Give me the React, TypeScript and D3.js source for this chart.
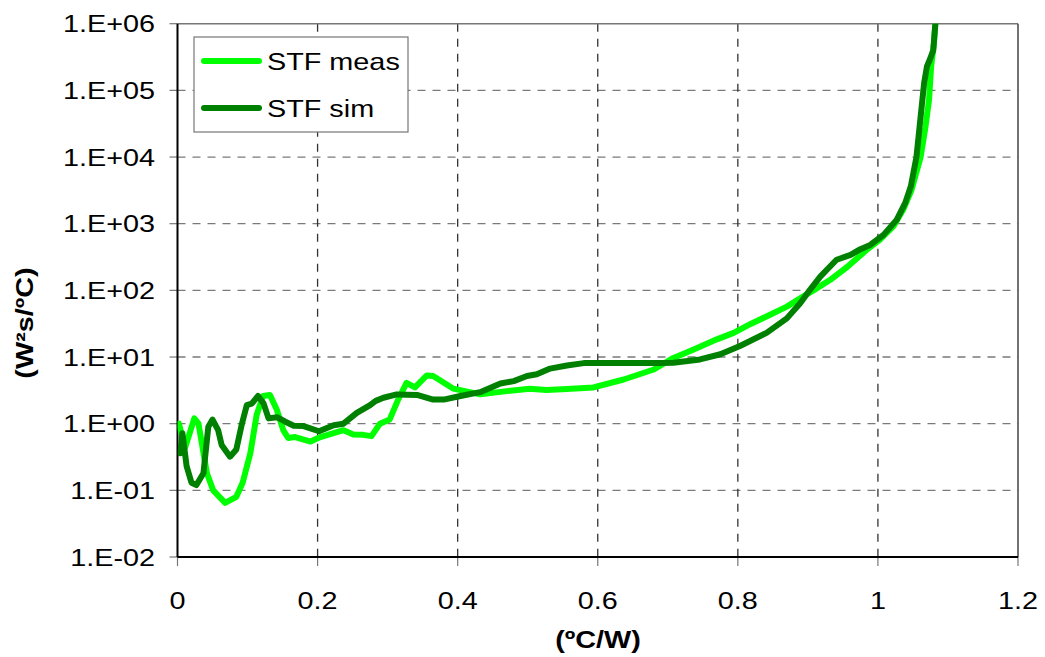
import { useEffect, useRef } from "react"
import * as d3 from "d3"

// STF curves, [x (ºC/W), y (W²s/ºC)]
const stfMeas: [number, number][] = [
  [0.002, 1.0], [0.011, 0.44], [0.024, 1.2], [0.03, 1.0], [0.042, 0.18], [0.051, 0.1],
  [0.068, 0.065], [0.084, 0.08], [0.093, 0.13], [0.104, 0.36], [0.113, 1.35], [0.122, 2.6],
  [0.132, 2.7], [0.142, 1.6], [0.151, 0.8], [0.158, 0.61], [0.168, 0.63], [0.19, 0.54],
  [0.204, 0.63], [0.237, 0.8], [0.251, 0.69], [0.265, 0.68], [0.277, 0.65], [0.289, 1.0],
  [0.303, 1.16], [0.315, 2.3], [0.327, 4.1], [0.339, 3.5], [0.356, 5.3], [0.365, 5.2],
  [0.394, 3.35], [0.432, 2.75], [0.47, 3.08], [0.503, 3.35], [0.527, 3.2], [0.556, 3.3],
  [0.594, 3.5], [0.637, 4.6], [0.68, 6.5], [0.708, 9.7], [0.737, 13], [0.77, 18.4],
  [0.794, 23], [0.819, 31.6], [0.846, 43], [0.87, 57], [0.889, 76], [0.908, 100],
  [0.932, 144], [0.956, 224], [0.984, 405], [1.003, 575], [1.022, 912], [1.036, 1620],
  [1.048, 3200], [1.061, 10000], [1.068, 28800], [1.073, 72400], [1.076, 229000],
  [1.08, 513000], [1.082, 1000000],
]

const stfSim: [number, number][] = [
  [0.004, 0.36], [0.007, 0.72], [0.013, 0.23], [0.02, 0.13], [0.027, 0.12], [0.037, 0.18],
  [0.044, 0.9], [0.05, 1.15], [0.058, 0.8], [0.063, 0.48], [0.075, 0.32], [0.084, 0.41],
  [0.092, 1.0], [0.099, 1.9], [0.106, 2.0], [0.115, 2.6], [0.123, 2.0], [0.13, 1.2],
  [0.142, 1.25], [0.154, 1.07], [0.166, 0.93], [0.18, 0.92], [0.202, 0.77], [0.223, 0.95],
  [0.237, 1.0], [0.256, 1.45], [0.275, 1.9], [0.283, 2.2], [0.294, 2.45], [0.313, 2.75],
  [0.342, 2.7], [0.365, 2.3], [0.38, 2.3], [0.404, 2.6], [0.432, 2.97], [0.461, 4.0],
  [0.48, 4.35], [0.499, 5.2], [0.513, 5.5], [0.532, 6.7], [0.556, 7.45], [0.58, 8.1],
  [0.604, 8.1], [0.69, 8.1], [0.708, 8.2], [0.746, 9.2], [0.775, 11], [0.803, 14.6],
  [0.841, 23], [0.87, 38], [0.889, 64], [0.903, 102], [0.918, 162], [0.941, 288],
  [0.961, 340], [0.975, 415], [0.989, 480], [1.008, 680], [1.027, 1150], [1.039, 2050],
  [1.047, 3640], [1.055, 10000], [1.062, 51300], [1.066, 129000], [1.07, 229000],
  [1.074, 288000], [1.079, 398000], [1.082, 1000000],
]

const xTicks = [0, 0.2, 0.4, 0.6, 0.8, 1, 1.2]
const yTicks = [1e-2, 1e-1, 1e0, 1e1, 1e2, 1e3, 1e4, 1e5, 1e6]
const seriesNames = ["STF meas", "STF sim"]
const seriesColors = ["#00ff00", "#008000"]

const fmtY = (v: number) => {
  const e = Math.round(Math.log10(v))
  return `1.E${e < 0 ? "-" : "+"}${String(Math.abs(e)).padStart(2, "0")}`
}

export default function App() {
  const svgRef = useRef<SVGSVGElement>(null)

  useEffect(() => {
    if (!svgRef.current) return
    const W = 1045
    const H = 657
    const left = 177.5
    const right = 1018
    const top = 23.7
    const bottom = 557
    const font = "Arial, 'Liberation Sans', sans-serif"

    const svg = d3.select(svgRef.current).attr("width", W).attr("height", H)
    svg.selectAll("*").remove()

    const x = d3.scaleLinear().domain([0, 1.2]).range([left, right])
    const y = d3.scaleLog().domain([1e-2, 1e6]).range([bottom, top])

    svg.append("rect").attr("width", W).attr("height", H).attr("fill", "white")

    svg
      .append("defs")
      .append("clipPath")
      .attr("id", "plot")
      .append("rect")
      .attr("x", left)
      .attr("y", top)
      .attr("width", right - left)
      .attr("height", bottom - top)

    // grid: horizontal lighter, vertical darker
    svg
      .append("g")
      .selectAll("line")
      .data(yTicks.slice(1, -1))
      .join("line")
      .attr("x1", left)
      .attr("x2", right)
      .attr("y1", (d) => y(d))
      .attr("y2", (d) => y(d))
      .attr("stroke", "#7a7a7a")
      .attr("stroke-width", 1.3)
      .attr("stroke-dasharray", "8,7")
    svg
      .append("g")
      .selectAll("line")
      .data(xTicks.slice(1, -1))
      .join("line")
      .attr("x1", (d) => x(d))
      .attr("x2", (d) => x(d))
      .attr("y1", top)
      .attr("y2", bottom)
      .attr("stroke", "#333")
      .attr("stroke-width", 1.3)
      .attr("stroke-dasharray", "8,7")

    // frame
    svg.append("line").attr("x1", left).attr("x2", right).attr("y1", top).attr("y2", top).attr("stroke", "#777").attr("stroke-width", 1.5)
    svg.append("line").attr("x1", right).attr("x2", right).attr("y1", top).attr("y2", bottom).attr("stroke", "#444").attr("stroke-width", 1.5)

    // ticks
    svg
      .append("g")
      .selectAll("line")
      .data(yTicks)
      .join("line")
      .attr("x1", left - 8)
      .attr("x2", left)
      .attr("y1", (d) => y(d))
      .attr("y2", (d) => y(d))
      .attr("stroke", "#777")
      .attr("stroke-width", 1.2)
    svg
      .append("g")
      .selectAll("line")
      .data(xTicks)
      .join("line")
      .attr("x1", (d) => x(d))
      .attr("x2", (d) => x(d))
      .attr("y1", bottom)
      .attr("y2", bottom + 9)
      .attr("stroke", "#777")
      .attr("stroke-width", 1.2)

    // axes
    svg.append("line").attr("x1", left).attr("x2", left).attr("y1", top).attr("y2", bottom).attr("stroke", "#000").attr("stroke-width", 2)
    svg.append("line").attr("x1", left).attr("x2", right).attr("y1", bottom).attr("y2", bottom).attr("stroke", "#000").attr("stroke-width", 2)

    // tick labels
    svg
      .append("g")
      .selectAll("text")
      .data(yTicks)
      .join("text")
      .attr("transform", (d) => `translate(155,${y(d) + 8.6}) scale(1.2,1)`)
      .attr("text-anchor", "end")
      .style("font-family", font)
      .style("font-size", "24px")
      .text((d) => fmtY(d))
    svg
      .append("g")
      .selectAll("text")
      .data(xTicks)
      .join("text")
      .attr("transform", (d) => `translate(${x(d)},608.5) scale(1.2,1)`)
      .attr("text-anchor", "middle")
      .style("font-family", font)
      .style("font-size", "24px")
      .text((d) => String(d))

    // axis titles
    svg
      .append("text")
      .attr("transform", `translate(598,648) scale(1.2,1)`)
      .attr("text-anchor", "middle")
      .style("font-family", font)
      .style("font-size", "24px")
      .style("font-weight", "bold")
      .text("(ºC/W)")
    svg
      .append("text")
      .attr("transform", `translate(33,323) rotate(-90) scale(1.2,1)`)
      .attr("text-anchor", "middle")
      .style("font-family", font)
      .style("font-size", "24px")
      .style("font-weight", "bold")
      .text("(W²s/ºC)")

    // series
    const line = d3
      .line<[number, number]>()
      .x((d) => x(d[0]))
      .y((d) => y(d[1]))
      .curve(d3.curveLinear)
    const lines = svg.append("g").attr("clip-path", "url(#plot)")
    ;[stfMeas, stfSim].forEach((data, i) => {
      lines
        .append("path")
        .datum(data)
        .attr("d", line)
        .attr("fill", "none")
        .attr("stroke", seriesColors[i])
        .attr("stroke-width", 6)
        .attr("stroke-linejoin", "round")
        .attr("stroke-linecap", "round")
    })

    // legend
    const lg = svg.append("g")
    lg.append("rect").attr("x", 194).attr("y", 37).attr("width", 214).attr("height", 95).attr("fill", "white").attr("stroke", "#777").attr("stroke-width", 1.2)
    seriesNames.forEach((name, i) => {
      const ly = 61 + i * 47
      lg.append("line").attr("x1", 204).attr("x2", 259).attr("y1", ly).attr("y2", ly).attr("stroke", seriesColors[i]).attr("stroke-width", 6).attr("stroke-linecap", "round")
      lg.append("text")
        .attr("transform", `translate(267,${ly + 9}) scale(1.2,1)`)
        .style("font-family", font)
        .style("font-size", "24px")
        .text(name)
    })
  }, [])

  return (
    <div style={{ position: "absolute", left: 0, top: 0 }}>
      <svg ref={svgRef}></svg>
    </div>
  )
}
